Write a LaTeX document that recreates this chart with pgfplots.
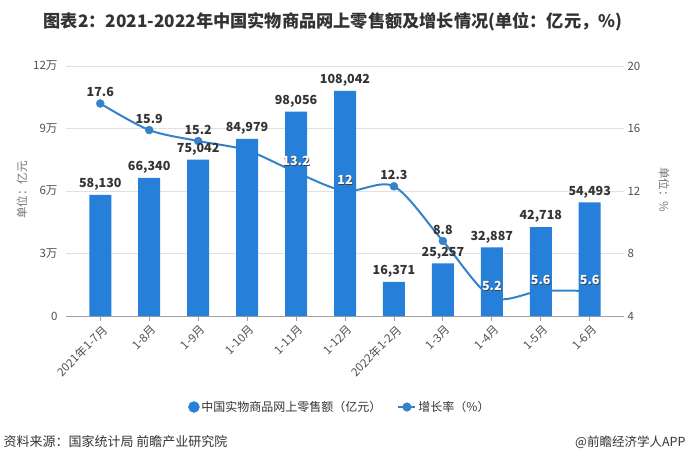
\documentclass[border=0pt]{standalone}
\usepackage{pgfplots}
\pgfplotsset{compat=1.18}
\usepackage{fontspec}
\setmainfont{Noto Sans CJK SC}
\definecolor{barblue}{RGB}{38,127,217}
\definecolor{lineblue}{RGB}{52,130,200}
\definecolor{txt}{RGB}{51,51,51}
\definecolor{tickc}{RGB}{80,80,80}
\definecolor{gridc}{RGB}{225,225,225}
\definecolor{axisc}{RGB}{160,160,160}
\pgfplotsset{base/.style={scale only axis, width=558bp, height=250bp, at={(0,0)}, anchor=south west, xmin=-0.7, xmax=10.7, clip=false}}
\begin{document}
\begin{tikzpicture}
\path[use as bounding box] (-66bp,-143bp) rectangle (633bp,316bp);
% grid + left axis + x labels
\begin{axis}[base, ymin=0, ymax=120000, scaled y ticks=false,
  ytick={0,30000,60000,90000,120000}, yticklabels={0,3万,6万,9万,12万},
  ymajorgrids, grid style={gridc, line width=0.8bp},
  axis x line*=bottom, axis y line*=left,
  y axis line style={draw=none}, x axis line style={axisc, line width=0.8bp},
  y tick style={draw=none},
  xtick={0,...,10},
  xticklabels={2021年1-7月,1-8月,1-9月,1-10月,1-11月,1-12月,2022年1-2月,1-3月,1-4月,1-5月,1-6月},
  x tick style={axisc, line width=0.8bp}, tick align=outside, major tick length=5bp,
  x tick label style={rotate=45, anchor=north east, font=\fontsize{11.5bp}{13bp}\selectfont, text=tickc, inner sep=1bp, yshift=-2bp},
  y tick label style={font=\fontsize{11.5bp}{13bp}\selectfont, text=tickc},
  ]
\end{axis}
% line (right axis)
\begin{axis}[base, ymin=4, ymax=20,
  axis y line*=right, axis x line=none,
  y axis line style={draw=none}, y tick style={draw=none},
  ytick={4,8,12,16,20}, yticklabels={4,8,12,16,20},
  y tick label style={font=\fontsize{11.5bp}{13bp}\selectfont, text=tickc},
  ]
\addplot[lineblue, line width=2bp, smooth, tension=0.5, mark=none]
 coordinates {(0,17.6)(1,15.9)(2,15.2)(3,14.6)(4,13.2)(5,12)(6,12.3)(7,8.8)(8,5.2)(9,5.6)(10,5.6)};
\addplot[only marks, mark=*, mark size=4bp, mark options={solid, fill=lineblue, draw=lineblue}]
 coordinates {(0,17.6)(1,15.9)(2,15.2)(3,14.6)(4,13.2)(5,12)(6,12.3)(7,8.8)(8,5.2)(9,5.6)(10,5.6)};
\end{axis}
% bars
\begin{axis}[base, ymin=0, ymax=120000, hide axis]
\addplot[ybar, bar width=22bp, fill=barblue, draw=none,
  nodes near coords, point meta=explicit symbolic,
  nodes near coords style={font=\bfseries\fontsize{12.5bp}{14bp}\selectfont, text=txt, anchor=south, yshift=1bp}]
 coordinates {(0,58130)[58{,}130] (1,66340)[66{,}340] (2,75042)[75{,}042] (3,84979)[84{,}979] (4,98056)[98{,}056] (5,108042)[108{,}042] (6,16371)[16{,}371] (7,25257)[25{,}257] (8,32887)[32{,}887] (9,42718)[42{,}718] (10,54493)[54{,}493]};
\end{axis}
% line labels + legend
\begin{axis}[base, ymin=4, ymax=20, hide axis,
  legend style={at={(0.491,-0.364)}, anchor=center, draw=none, fill=none, legend columns=2,
    font=\fontsize{12bp}{14bp}\selectfont, text=txt,
    /tikz/every even column/.append style={column sep=14bp}},
  ]
\addplot[draw=none, forget plot, nodes near coords, point meta=explicit symbolic,
  nodes near coords style={font=\bfseries\fontsize{12.5bp}{14bp}\selectfont, text=txt, anchor=south, yshift=3bp}]
 coordinates {(0,17.6)[17.6] (1,15.9)[15.9] (2,15.2)[15.2] (6,12.3)[12.3] (7,8.8)[8.8]};
\addplot[draw=none, forget plot, nodes near coords, point meta=explicit symbolic,
  nodes near coords style={font=\bfseries\fontsize{12.5bp}{14bp}\selectfont, text=black!75, anchor=south, yshift=2.3bp, xshift=0.7bp}]
 coordinates {(4,13.2)[13.2] (5,12)[12] (8,5.2)[5.2] (9,5.6)[5.6] (10,5.6)[5.6]};
\addplot[draw=none, forget plot, nodes near coords, point meta=explicit symbolic,
  nodes near coords style={font=\bfseries\fontsize{12.5bp}{14bp}\selectfont, text=white, anchor=south, yshift=3bp}]
 coordinates {(4,13.2)[13.2] (5,12)[12] (8,5.2)[5.2] (9,5.6)[5.6] (10,5.6)[5.6]};
\addlegendimage{only marks, mark=*, mark size=5.5bp, mark options={solid, fill=barblue, draw=barblue}}
\addlegendentry{中国实物商品网上零售额（亿元）}
\addlegendimage{lineblue, line width=2bp, mark=*, mark size=3.5bp, mark options={solid, fill=lineblue, draw=lineblue}}
\addlegendentry{增长率（\%）}
\end{axis}
% texts
\node[font=\bfseries\fontsize{17.2bp}{19bp}\selectfont, text=txt] at (267bp,294bp) {图表2：2021-2022年中国实物商品网上零售额及增长情况(单位：亿元，\%)};
\node[rotate=90, font=\fontsize{11.5bp}{13bp}\selectfont, text=tickc!80] at (-44bp,126bp) {单位：亿元};
\node[rotate=-90, font=\fontsize{11.5bp}{13bp}\selectfont, text=tickc!80] at (598bp,126bp) {单位：\%};
\node[anchor=west, font=\fontsize{13bp}{15bp}\selectfont, text=txt] at (-66bp,-126bp) {资料来源：国家统计局 前瞻产业研究院};
\node[anchor=east, font=\fontsize{12.5bp}{15bp}\selectfont, text=txt] at (623bp,-126bp) {@前瞻经济学人APP};
\end{tikzpicture}
\end{document}
